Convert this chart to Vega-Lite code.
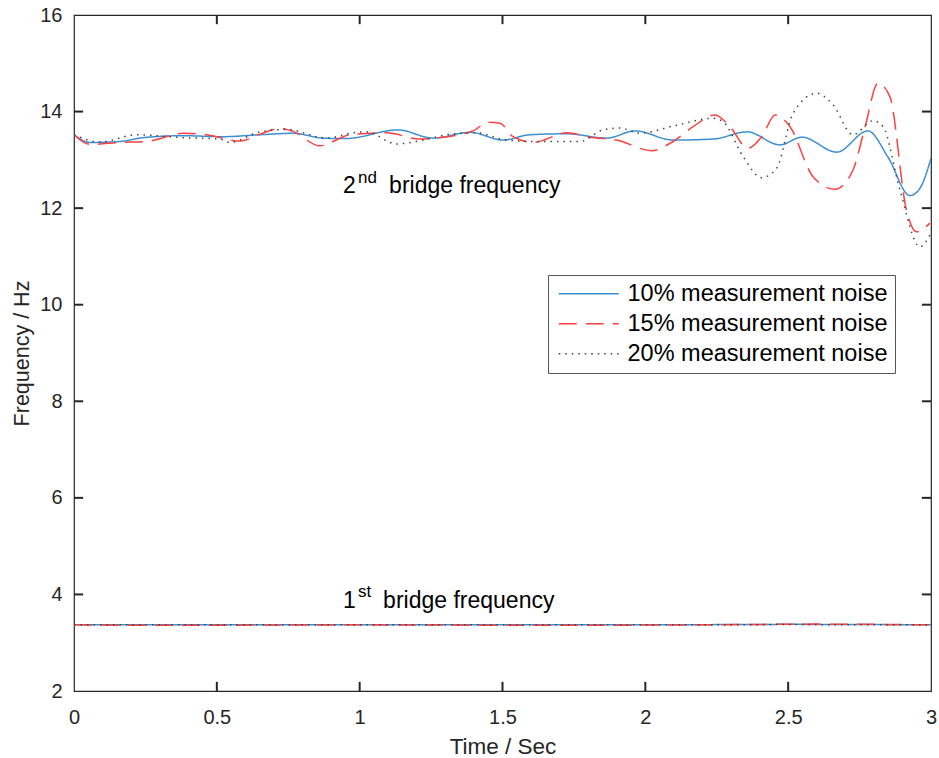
{
  "$schema": "https://vega.github.io/schema/vega-lite/v6.json",
  "width": 857,
  "height": 676,
  "autosize": "none",
  "padding": {"left": 74, "top": 15, "right": 8, "bottom": 67},
  "background": "white",
  "config": {
    "font": "Liberation Sans",
    "view": {"stroke": "#262626", "strokeWidth": 1.2},
    "axis": {"grid": false, "domain": false, "ticks": false, "labelColor": "#262626", "titleColor": "#262626", "labelFont": "Liberation Sans", "titleFont": "Liberation Sans", "titleFontWeight": "normal", "labelFontSize": 20, "labelFlush": false}
  },
  "datasets": {
    "lines": [
      {"t": 0, "f": 13.52, "s": "10% measurement noise", "m": "2nd"},
      {"t": 0.056, "f": 13.36, "s": "10% measurement noise", "m": "2nd"},
      {"t": 0.161, "f": 13.38, "s": "10% measurement noise", "m": "2nd"},
      {"t": 0.242, "f": 13.46, "s": "10% measurement noise", "m": "2nd"},
      {"t": 0.382, "f": 13.5, "s": "10% measurement noise", "m": "2nd"},
      {"t": 0.522, "f": 13.48, "s": "10% measurement noise", "m": "2nd"},
      {"t": 0.651, "f": 13.52, "s": "10% measurement noise", "m": "2nd"},
      {"t": 0.767, "f": 13.55, "s": "10% measurement noise", "m": "2nd"},
      {"t": 0.872, "f": 13.45, "s": "10% measurement noise", "m": "2nd"},
      {"t": 0.95, "f": 13.44, "s": "10% measurement noise", "m": "2nd"},
      {"t": 1.134, "f": 13.62, "s": "10% measurement noise", "m": "2nd"},
      {"t": 1.257, "f": 13.45, "s": "10% measurement noise", "m": "2nd"},
      {"t": 1.386, "f": 13.57, "s": "10% measurement noise", "m": "2nd"},
      {"t": 1.502, "f": 13.41, "s": "10% measurement noise", "m": "2nd"},
      {"t": 1.596, "f": 13.52, "s": "10% measurement noise", "m": "2nd"},
      {"t": 1.725, "f": 13.54, "s": "10% measurement noise", "m": "2nd"},
      {"t": 1.865, "f": 13.45, "s": "10% measurement noise", "m": "2nd"},
      {"t": 1.964, "f": 13.6, "s": "10% measurement noise", "m": "2nd"},
      {"t": 2.097, "f": 13.41, "s": "10% measurement noise", "m": "2nd"},
      {"t": 2.237, "f": 13.43, "s": "10% measurement noise", "m": "2nd"},
      {"t": 2.356, "f": 13.58, "s": "10% measurement noise", "m": "2nd"},
      {"t": 2.471, "f": 13.31, "s": "10% measurement noise", "m": "2nd"},
      {"t": 2.548, "f": 13.47, "s": "10% measurement noise", "m": "2nd"},
      {"t": 2.67, "f": 13.16, "s": "10% measurement noise", "m": "2nd"},
      {"t": 2.779, "f": 13.6, "s": "10% measurement noise", "m": "2nd"},
      {"t": 2.85, "f": 13.05, "s": "10% measurement noise", "m": "2nd"},
      {"t": 2.926, "f": 12.26, "s": "10% measurement noise", "m": "2nd"},
      {"t": 2.96, "f": 12.4, "s": "10% measurement noise", "m": "2nd"},
      {"t": 3.0, "f": 13.03, "s": "10% measurement noise", "m": "2nd"},

      {"t": 0, "f": 13.52, "s": "15% measurement noise", "m": "2nd"},
      {"t": 0.056, "f": 13.32, "s": "15% measurement noise", "m": "2nd"},
      {"t": 0.161, "f": 13.36, "s": "15% measurement noise", "m": "2nd"},
      {"t": 0.254, "f": 13.38, "s": "15% measurement noise", "m": "2nd"},
      {"t": 0.382, "f": 13.55, "s": "15% measurement noise", "m": "2nd"},
      {"t": 0.464, "f": 13.52, "s": "15% measurement noise", "m": "2nd"},
      {"t": 0.581, "f": 13.39, "s": "15% measurement noise", "m": "2nd"},
      {"t": 0.651, "f": 13.53, "s": "15% measurement noise", "m": "2nd"},
      {"t": 0.721, "f": 13.65, "s": "15% measurement noise", "m": "2nd"},
      {"t": 0.767, "f": 13.59, "s": "15% measurement noise", "m": "2nd"},
      {"t": 0.86, "f": 13.29, "s": "15% measurement noise", "m": "2nd"},
      {"t": 0.966, "f": 13.52, "s": "15% measurement noise", "m": "2nd"},
      {"t": 1.094, "f": 13.56, "s": "15% measurement noise", "m": "2nd"},
      {"t": 1.211, "f": 13.43, "s": "15% measurement noise", "m": "2nd"},
      {"t": 1.26, "f": 13.45, "s": "15% measurement noise", "m": "2nd"},
      {"t": 1.397, "f": 13.6, "s": "15% measurement noise", "m": "2nd"},
      {"t": 1.45, "f": 13.78, "s": "15% measurement noise", "m": "2nd"},
      {"t": 1.491, "f": 13.76, "s": "15% measurement noise", "m": "2nd"},
      {"t": 1.537, "f": 13.48, "s": "15% measurement noise", "m": "2nd"},
      {"t": 1.608, "f": 13.36, "s": "15% measurement noise", "m": "2nd"},
      {"t": 1.725, "f": 13.56, "s": "15% measurement noise", "m": "2nd"},
      {"t": 1.806, "f": 13.47, "s": "15% measurement noise", "m": "2nd"},
      {"t": 1.9, "f": 13.41, "s": "15% measurement noise", "m": "2nd"},
      {"t": 2.022, "f": 13.19, "s": "15% measurement noise", "m": "2nd"},
      {"t": 2.097, "f": 13.38, "s": "15% measurement noise", "m": "2nd"},
      {"t": 2.17, "f": 13.7, "s": "15% measurement noise", "m": "2nd"},
      {"t": 2.244, "f": 13.93, "s": "15% measurement noise", "m": "2nd"},
      {"t": 2.296, "f": 13.69, "s": "15% measurement noise", "m": "2nd"},
      {"t": 2.359, "f": 13.24, "s": "15% measurement noise", "m": "2nd"},
      {"t": 2.41, "f": 13.5, "s": "15% measurement noise", "m": "2nd"},
      {"t": 2.454, "f": 13.93, "s": "15% measurement noise", "m": "2nd"},
      {"t": 2.506, "f": 13.69, "s": "15% measurement noise", "m": "2nd"},
      {"t": 2.587, "f": 12.65, "s": "15% measurement noise", "m": "2nd"},
      {"t": 2.664, "f": 12.39, "s": "15% measurement noise", "m": "2nd"},
      {"t": 2.727, "f": 12.79, "s": "15% measurement noise", "m": "2nd"},
      {"t": 2.77, "f": 13.7, "s": "15% measurement noise", "m": "2nd"},
      {"t": 2.814, "f": 14.59, "s": "15% measurement noise", "m": "2nd"},
      {"t": 2.856, "f": 14.31, "s": "15% measurement noise", "m": "2nd"},
      {"t": 2.914, "f": 11.96, "s": "15% measurement noise", "m": "2nd"},
      {"t": 2.949, "f": 11.51, "s": "15% measurement noise", "m": "2nd"},
      {"t": 2.996, "f": 11.69, "s": "15% measurement noise", "m": "2nd"},

      {"t": 0, "f": 13.52, "s": "20% measurement noise", "m": "2nd"},
      {"t": 0.091, "f": 13.37, "s": "20% measurement noise", "m": "2nd"},
      {"t": 0.219, "f": 13.52, "s": "20% measurement noise", "m": "2nd"},
      {"t": 0.382, "f": 13.46, "s": "20% measurement noise", "m": "2nd"},
      {"t": 0.511, "f": 13.43, "s": "20% measurement noise", "m": "2nd"},
      {"t": 0.546, "f": 13.36, "s": "20% measurement noise", "m": "2nd"},
      {"t": 0.651, "f": 13.58, "s": "20% measurement noise", "m": "2nd"},
      {"t": 0.744, "f": 13.63, "s": "20% measurement noise", "m": "2nd"},
      {"t": 0.884, "f": 13.45, "s": "20% measurement noise", "m": "2nd"},
      {"t": 0.977, "f": 13.56, "s": "20% measurement noise", "m": "2nd"},
      {"t": 1.024, "f": 13.58, "s": "20% measurement noise", "m": "2nd"},
      {"t": 1.129, "f": 13.33, "s": "20% measurement noise", "m": "2nd"},
      {"t": 1.222, "f": 13.41, "s": "20% measurement noise", "m": "2nd"},
      {"t": 1.316, "f": 13.53, "s": "20% measurement noise", "m": "2nd"},
      {"t": 1.409, "f": 13.56, "s": "20% measurement noise", "m": "2nd"},
      {"t": 1.514, "f": 13.41, "s": "20% measurement noise", "m": "2nd"},
      {"t": 1.631, "f": 13.38, "s": "20% measurement noise", "m": "2nd"},
      {"t": 1.771, "f": 13.38, "s": "20% measurement noise", "m": "2nd"},
      {"t": 1.852, "f": 13.62, "s": "20% measurement noise", "m": "2nd"},
      {"t": 1.911, "f": 13.66, "s": "20% measurement noise", "m": "2nd"},
      {"t": 1.981, "f": 13.55, "s": "20% measurement noise", "m": "2nd"},
      {"t": 2.097, "f": 13.7, "s": "20% measurement noise", "m": "2nd"},
      {"t": 2.237, "f": 13.86, "s": "20% measurement noise", "m": "2nd"},
      {"t": 2.272, "f": 13.79, "s": "20% measurement noise", "m": "2nd"},
      {"t": 2.342, "f": 13.07, "s": "20% measurement noise", "m": "2nd"},
      {"t": 2.407, "f": 12.63, "s": "20% measurement noise", "m": "2nd"},
      {"t": 2.459, "f": 12.82, "s": "20% measurement noise", "m": "2nd"},
      {"t": 2.517, "f": 13.96, "s": "20% measurement noise", "m": "2nd"},
      {"t": 2.6, "f": 14.38, "s": "20% measurement noise", "m": "2nd"},
      {"t": 2.657, "f": 14.14, "s": "20% measurement noise", "m": "2nd"},
      {"t": 2.727, "f": 13.52, "s": "20% measurement noise", "m": "2nd"},
      {"t": 2.797, "f": 13.81, "s": "20% measurement noise", "m": "2nd"},
      {"t": 2.832, "f": 13.69, "s": "20% measurement noise", "m": "2nd"},
      {"t": 2.891, "f": 12.38, "s": "20% measurement noise", "m": "2nd"},
      {"t": 2.961, "f": 11.2, "s": "20% measurement noise", "m": "2nd"},
      {"t": 2.996, "f": 11.44, "s": "20% measurement noise", "m": "2nd"},

      {"t": 0, "f": 3.37, "s": "10% measurement noise", "m": "1st"},
      {"t": 0.5, "f": 3.37, "s": "10% measurement noise", "m": "1st"},
      {"t": 1.0, "f": 3.37, "s": "10% measurement noise", "m": "1st"},
      {"t": 1.5, "f": 3.37, "s": "10% measurement noise", "m": "1st"},
      {"t": 2.0, "f": 3.37, "s": "10% measurement noise", "m": "1st"},
      {"t": 2.5, "f": 3.38, "s": "10% measurement noise", "m": "1st"},
      {"t": 3.0, "f": 3.37, "s": "10% measurement noise", "m": "1st"},
      {"t": 0, "f": 3.37, "s": "15% measurement noise", "m": "1st"},
      {"t": 0.3, "f": 3.36, "s": "15% measurement noise", "m": "1st"},
      {"t": 1.0, "f": 3.37, "s": "15% measurement noise", "m": "1st"},
      {"t": 1.6, "f": 3.36, "s": "15% measurement noise", "m": "1st"},
      {"t": 2.2, "f": 3.37, "s": "15% measurement noise", "m": "1st"},
      {"t": 2.6, "f": 3.385, "s": "15% measurement noise", "m": "1st"},
      {"t": 3.0, "f": 3.37, "s": "15% measurement noise", "m": "1st"},
      {"t": 0, "f": 3.37, "s": "20% measurement noise", "m": "1st"},
      {"t": 0.5, "f": 3.37, "s": "20% measurement noise", "m": "1st"},
      {"t": 1.0, "f": 3.37, "s": "20% measurement noise", "m": "1st"},
      {"t": 1.5, "f": 3.37, "s": "20% measurement noise", "m": "1st"},
      {"t": 2.0, "f": 3.37, "s": "20% measurement noise", "m": "1st"},
      {"t": 2.5, "f": 3.375, "s": "20% measurement noise", "m": "1st"},
      {"t": 3.0, "f": 3.37, "s": "20% measurement noise", "m": "1st"}
    ],
    "labels": [
      {"t": 0.942, "f": 12.31, "text": "2"},
      {"t": 1.103, "f": 12.31, "text": "bridge frequency"},
      {"t": 0.942, "f": 3.72, "text": "1"},
      {"t": 1.082, "f": 3.72, "text": "bridge frequency"}
    ],
    "sups": [
      {"t": 0.994, "f": 12.52, "text": "nd"},
      {"t": 0.994, "f": 3.95, "text": "st"}
    ],
    "xticks": [
      {"t": 0.5, "f": 2, "f2": 2.19}, {"t": 1, "f": 2, "f2": 2.19}, {"t": 1.5, "f": 2, "f2": 2.19}, {"t": 2, "f": 2, "f2": 2.19}, {"t": 2.5, "f": 2, "f2": 2.19},
      {"t": 0.5, "f": 16, "f2": 15.81}, {"t": 1, "f": 16, "f2": 15.81}, {"t": 1.5, "f": 16, "f2": 15.81}, {"t": 2, "f": 16, "f2": 15.81}, {"t": 2.5, "f": 16, "f2": 15.81}
    ],
    "yticks": [
      {"t": 0, "t2": 0.032, "f": 4}, {"t": 0, "t2": 0.032, "f": 6}, {"t": 0, "t2": 0.032, "f": 8}, {"t": 0, "t2": 0.032, "f": 10}, {"t": 0, "t2": 0.032, "f": 12}, {"t": 0, "t2": 0.032, "f": 14},
      {"t": 3, "t2": 2.968, "f": 4}, {"t": 3, "t2": 2.968, "f": 6}, {"t": 3, "t2": 2.968, "f": 8}, {"t": 3, "t2": 2.968, "f": 10}, {"t": 3, "t2": 2.968, "f": 12}, {"t": 3, "t2": 2.968, "f": 14}
    ]
  },
  "layer": [
    {
      "data": {"name": "lines"},
      "mark": {"type": "line", "strokeWidth": 1.5, "interpolate": "monotone", "clip": true},
      "encoding": {
        "x": {"field": "t", "type": "quantitative", "scale": {"domain": [0, 3], "nice": false, "zero": false},
              "axis": {"orient": "bottom", "values": [0, 0.5, 1, 1.5, 2, 2.5, 3], "title": "Time / Sec", "titleFontSize": 22.5, "labelPadding": 16, "titlePadding": 8, "format": "~g"}},
        "y": {"field": "f", "type": "quantitative", "scale": {"domain": [2, 16], "nice": false, "zero": false},
              "axis": {"orient": "left", "values": [2, 4, 6, 8, 10, 12, 14, 16], "title": "Frequency / Hz", "titleFontSize": 21.5, "labelPadding": 12, "titlePadding": 6}},
        "color": {"field": "s", "type": "nominal",
                  "scale": {"domain": ["10% measurement noise", "15% measurement noise", "20% measurement noise"], "range": ["#3b8fd4", "#ff4040", "#444444"]},
                  "legend": {"orient": "none", "legendX": 474, "legendY": 260, "title": null, "labelFontSize": 23.5, "labelLimit": 0, "labelColor": "#000000", "labelFont": "Liberation Sans", "strokeColor": "#555555", "fillColor": "white", "padding": 7, "symbolType": "M-3,0H3", "symbolSize": 400, "symbolStrokeWidth": 1.5, "symbolOffset": 22, "labelOffset": 27, "rowPadding": 5}},
        "strokeDash": {"field": "s", "type": "nominal",
                       "scale": {"domain": ["10% measurement noise", "15% measurement noise", "20% measurement noise"], "range": [[1, 0], [18, 9], [1.5, 5]]},
                       "legend": null},
        "detail": {"field": "m"}
      }
    },
    {
      "data": {"name": "labels"},
      "mark": {"type": "text", "align": "left", "baseline": "alphabetic", "fontSize": 23, "font": "Liberation Sans", "color": "#000000"},
      "encoding": {
        "x": {"field": "t", "type": "quantitative"},
        "y": {"field": "f", "type": "quantitative"},
        "text": {"field": "text"}
      }
    },
    {
      "data": {"name": "sups"},
      "mark": {"type": "text", "align": "left", "baseline": "alphabetic", "fontSize": 17, "font": "Liberation Sans", "color": "#000000"},
      "encoding": {
        "x": {"field": "t", "type": "quantitative"},
        "y": {"field": "f", "type": "quantitative"},
        "text": {"field": "text"}
      }
    },
    {
      "data": {"name": "xticks"},
      "mark": {"type": "rule", "strokeWidth": 2, "stroke": "#262626", "opacity": 1},
      "encoding": {
        "x": {"field": "t", "type": "quantitative"},
        "y": {"field": "f", "type": "quantitative"},
        "y2": {"field": "f2"}
      }
    },
    {
      "data": {"name": "yticks"},
      "mark": {"type": "rule", "strokeWidth": 2, "stroke": "#262626", "opacity": 1},
      "encoding": {
        "x": {"field": "t", "type": "quantitative"},
        "x2": {"field": "t2"},
        "y": {"field": "f", "type": "quantitative"}
      }
    }
  ]
}
